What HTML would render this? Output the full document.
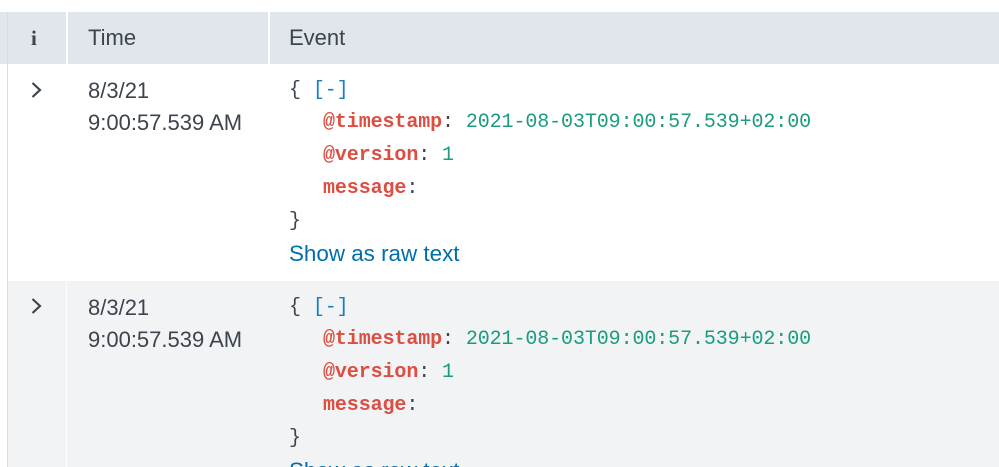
<!DOCTYPE html>
<html style="overflow:hidden;height:467px"><head><style>
html,body{overflow:hidden}
body{margin:0;width:999px;height:467px;background:#fff;position:relative;font-family:"Liberation Sans",sans-serif;color:#3c444d}
div{position:absolute}
.t{font-size:22px;white-space:nowrap;line-height:24px}
.m{font-family:"Liberation Mono",monospace;font-size:20px;letter-spacing:-0.1px;white-space:nowrap;line-height:24px;color:#3c444d}
.k{color:#dc4e41;font-weight:bold}
.v{color:#1a9c7f}
.b{color:#1a7dc0}
.l{color:#006eaa;font-size:22.4px;white-space:nowrap;line-height:24px}
</style></head><body>
<div style="left:0;top:12px;width:999px;height:52px;background:#e1e5ec"></div>
<div style="left:7px;top:12px;width:1px;height:455px;background:#d6dbe2"></div>
<div style="left:66px;top:12px;width:2px;height:52px;background:#fff"></div>
<div style="left:268px;top:12px;width:2px;height:52px;background:#fff"></div>
<div style="left:8px;top:281px;width:991px;height:186px;background:#f2f3f5"></div>
<div style="left:66px;top:281px;width:1px;height:186px;background:#fff"></div>
<div class="t" style="left:31px;top:26px;font-family:'Liberation Serif',serif;font-weight:bold;font-size:21px">i</div>
<div class="t" style="left:88px;top:26px">Time</div>
<div class="t" style="left:289px;top:26px">Event</div>

<svg style="position:absolute;left:30px;top:81px" width="14" height="18"><path d="M2.5 2 L10 9 L2.5 16" fill="none" stroke="#3c444d" stroke-width="2.2"/></svg>
<div class="t" style="left:88px;top:79px">8/3/21</div>
<div class="t" style="left:88px;top:111px">9:00:57.539 AM</div>
<div class="m" style="left:289px;top:79px">{ <span class="b">[-]</span></div>
<div class="m" style="left:323px;top:111px"><span class="k">@timestamp</span>: <span class="v">2021-08-03T09:00:57.539+02:00</span></div>
<div class="m" style="left:323px;top:144px"><span class="k">@version</span>: <span class="v">1</span></div>
<div class="m" style="left:323px;top:177px"><span class="k">message</span>:</div>
<div class="m" style="left:289px;top:210px">}</div>
<div class="l" style="left:289px;top:242px">Show as raw text</div>

<svg style="position:absolute;left:30px;top:297px" width="14" height="18"><path d="M2.5 2 L10 9 L2.5 16" fill="none" stroke="#3c444d" stroke-width="2.2"/></svg>
<div class="t" style="left:88px;top:296px">8/3/21</div>
<div class="t" style="left:88px;top:328px">9:00:57.539 AM</div>
<div class="m" style="left:289px;top:296px">{ <span class="b">[-]</span></div>
<div class="m" style="left:323px;top:328px"><span class="k">@timestamp</span>: <span class="v">2021-08-03T09:00:57.539+02:00</span></div>
<div class="m" style="left:323px;top:361px"><span class="k">@version</span>: <span class="v">1</span></div>
<div class="m" style="left:323px;top:394px"><span class="k">message</span>:</div>
<div class="m" style="left:289px;top:427px">}</div>
<div class="l" style="left:289px;top:459px">Show as raw text</div>
</body></html>
